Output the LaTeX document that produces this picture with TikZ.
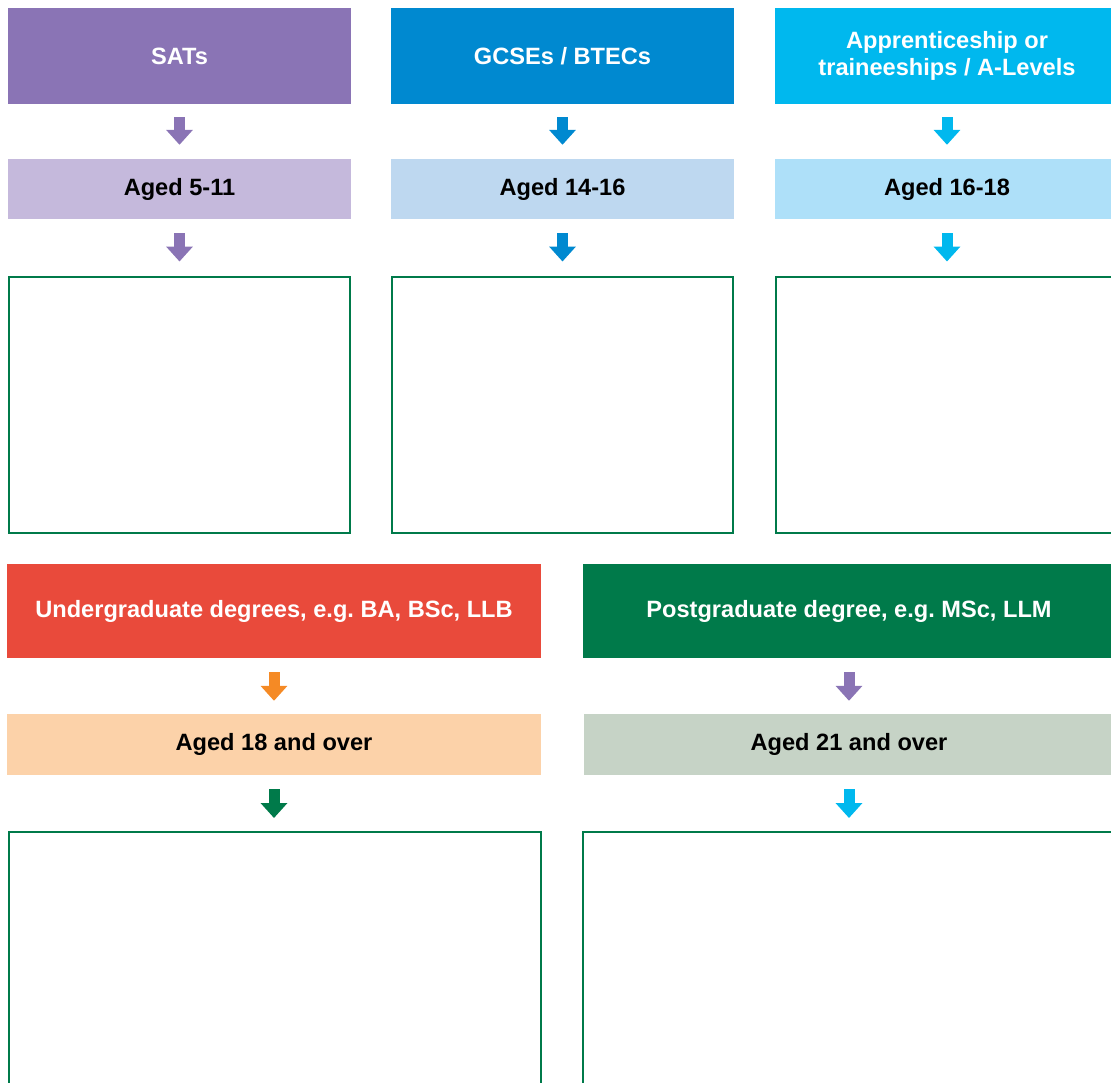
\documentclass[tikz,border=0pt]{standalone}
\usepackage{fontspec}
\setmainfont{Liberation Sans}
\usetikzlibrary{arrows.meta}
\frenchspacing

\definecolor{satpurple}{HTML}{8A74B5}
\definecolor{satlight}{HTML}{C5B9DC}
\definecolor{gcseblue}{HTML}{0089D0}
\definecolor{gcselight}{HTML}{BED8F0}
\definecolor{apprcyan}{HTML}{00B8EE}
\definecolor{apprlight}{HTML}{AEE0F9}
\definecolor{ugred}{HTML}{E94A3B}
\definecolor{ugorange}{HTML}{F58A25}
\definecolor{ugpeach}{HTML}{FCD2A9}
\definecolor{pggreen}{HTML}{007A4A}
\definecolor{pggrey}{HTML}{C6D3C6}

\tikzset{
  head/.style={fill=#1, text=white, inner sep=0pt, align=center,
    font=\bfseries\fontsize{23.6}{27}\selectfont},
  band/.style={fill=#1, text=black, inner sep=0pt,
    font=\bfseries\fontsize{23.6}{27}\selectfont},
  notebox/.style={draw=pggreen, line width=2pt, fill=white, inner sep=0pt},
  flow/.style={draw=#1, line width=11pt, -{Triangle[width=26pt,length=15pt]},
    shorten <=13pt, shorten >=14pt}
}

\begin{document}
\begin{tikzpicture}[x=1pt,y=-1pt]
      \useasboundingbox (0,0) rectangle (1111,1082);
      \clip (0,0) rectangle (1111,1082);

      \node[head=satpurple, minimum width=343pt, minimum height=96pt] (sats) at (179.5,56) {SATs};
      \node[head=gcseblue, minimum width=343pt, minimum height=96pt] (gcse) at (562.5,56) {GCSEs / BTECs};
      \node[head=apprcyan, minimum width=344pt, minimum height=96pt] (appr) at (947,56) {Apprenticeship or\\traineeships / A-Levels};

      \node[band=satlight, minimum width=343pt, minimum height=60pt] (age1) at (179.5,189) {Aged 5-11};
      \node[band=gcselight, minimum width=343pt, minimum height=60pt] (age2) at (562.5,189) {Aged 14-16};
      \node[band=apprlight, minimum width=344pt, minimum height=60pt] (age3) at (947,189) {Aged 16-18};

      \node[notebox, minimum width=341pt, minimum height=256pt] (box1) at (179.5,404.5) {};
      \node[notebox, minimum width=341pt, minimum height=256pt] (box2) at (562.5,404.5) {};
      \node[notebox, minimum width=342pt, minimum height=256pt] (box3) at (947,404.5) {};

      \node[head=ugred, minimum width=534pt, minimum height=94pt] (ug) at (274,611) {Undergraduate degrees, e.g. BA, BSc, LLB};
      \node[head=pggreen, minimum width=532pt, minimum height=94pt] (pg) at (849,611) {Postgraduate degree, e.g. MSc, LLM};

      \node[band=ugpeach, minimum width=534pt, minimum height=61pt] (age18) at (274,744.5) {Aged 18 and over};
      \node[band=pggrey, minimum width=530pt, minimum height=61pt] (age21) at (849,744.5) {Aged 21 and over};

      \node[notebox, minimum width=532pt, minimum height=300pt] (box4) at (275,982) {};
      \node[notebox, minimum width=532pt, minimum height=300pt] (box5) at (849,982) {};

      \draw[flow=satpurple] (sats) -- (age1);
      \draw[flow=gcseblue] (gcse) -- (age2);
      \draw[flow=apprcyan] (appr) -- (age3);
      \draw[flow=satpurple, shorten <=14pt] (age1) -- (box1);
      \draw[flow=gcseblue, shorten <=14pt] (age2) -- (box2);
      \draw[flow=apprcyan, shorten <=14pt] (age3) -- (box3);
      \draw[flow=ugorange, shorten <=14pt, shorten >=13pt] (ug) -- (age18);
      \draw[flow=satpurple, shorten <=14pt, shorten >=13pt] (pg.south) -- (age21.north);
      \draw[flow=pggreen, shorten <=14pt, shorten >=13pt] (age18.south) -- (age18.south |- box4.north);
      \draw[flow=apprcyan, shorten <=14pt, shorten >=13pt] (age21) -- (box5);
\end{tikzpicture}
\end{document}
